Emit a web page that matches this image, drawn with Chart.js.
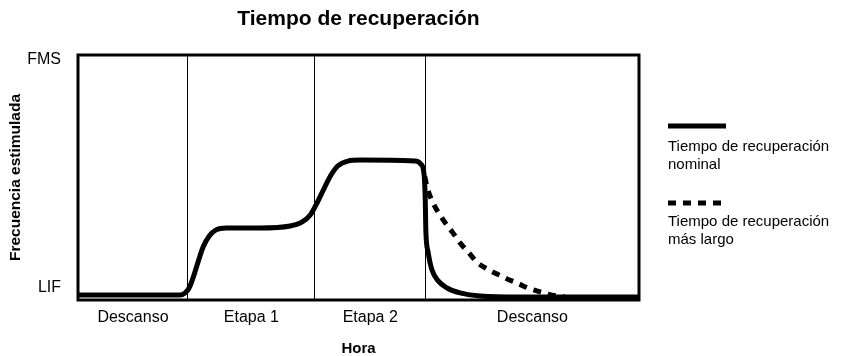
<!DOCTYPE html>
<html>
<head>
<meta charset="utf-8">
<script src="https://cdn.jsdelivr.net/npm/chart.js@4"></script>
<style>
  html, body { margin: 0; padding: 0; background: #fff; }
  #wrap { width: 841px; height: 356px; position: relative; }
</style>
</head>
<body>
<div id="wrap"><canvas id="c" width="841" height="356"></canvas></div>
<script>
// ---- data (time units 0..100, frequency units 0..100) ----
const chartTitle = 'Tiempo de recuperación';
const xTitle = 'Hora';
const yTitle = 'Frecuencia estimulada';
const phaseNames = ['Descanso', 'Etapa 1', 'Etapa 2', 'Descanso'];
const phaseBounds = [0, 19.6, 42.2, 62.0, 100];
const yTickValues = [4.9, 98];
const yTickLabels = ['LIF', 'FMS'];
const seriesNames = [['Tiempo de recuperación', 'nominal'], ['Tiempo de recuperación', 'más largo']];

const nominalX = [0, 18.2, 19.1, 19.8, 20.5, 21.4, 22.3, 23.4, 24.6, 26.4, 32.4, 37.8, 39.9, 41.4, 42.6, 43.9, 45.1, 46.3, 48.1, 50.3, 60.1, 61.1, 61.7, 61.9, 62.0, 62.4, 63.1, 64.2, 65.8, 68.1, 71.7, 78.8, 100];
const nominalY = [2.0, 2.0, 2.9, 4.9, 9.0, 15.5, 21.6, 26.1, 28.6, 29.4, 29.4, 30.2, 31.8, 34.7, 39.6, 45.7, 51.0, 54.7, 56.7, 57.1, 56.7, 55.5, 51.0, 40.8, 28.6, 19.6, 12.2, 7.8, 4.9, 2.9, 1.6, 1.2, 1.2];

const longX = [61.8, 62.3, 63.3, 65.1, 66.7, 68.1, 69.7, 71.1, 72.9, 74.7, 76.5, 78.3, 80.2, 82.4, 84.5, 86.8];
const longY = [50.5, 45.5, 39.6, 32.7, 27.8, 23.3, 19.2, 15.5, 12.7, 10.6, 8.6, 6.9, 4.9, 3.3, 2.0, 1.2];

// ---- chart ----
const FONT = '"Liberation Sans", Arial, Helvetica, sans-serif';
Chart.defaults.font.family = FONT;
Chart.defaults.color = '#000';

const toPts = (xs, ys) => xs.map((x, i) => ({ x: x, y: ys[i] }));
const phaseCenters = phaseNames.map((_, i) => (phaseBounds[i] + phaseBounds[i + 1]) / 2);
const innerBounds = phaseBounds.slice(1, -1);

const framePlugin = {
  id: 'frame',
  afterDraw(chart) {
    const { ctx, chartArea: a } = chart;
    ctx.save();
    ctx.strokeStyle = '#000';
    ctx.lineWidth = 3;
    ctx.strokeRect(a.left, a.top, a.right - a.left, a.bottom - a.top);
    ctx.restore();
  }
};

const legendPlugin = {
  id: 'sideLegend',
  afterDraw(chart) {
    const ctx = chart.ctx;
    const items = [
      { ds: chart.data.datasets[0], lineY: 126, textY: [147, 165] },
      { ds: chart.data.datasets[1], lineY: 203, textY: [222, 240] }
    ];
    ctx.save();
    items.forEach((it, i) => {
      ctx.beginPath();
      ctx.strokeStyle = it.ds.borderColor;
      ctx.lineWidth = 5;
      ctx.lineCap = 'butt';
      ctx.setLineDash(it.ds.borderDash || []);
      ctx.moveTo(668, it.lineY);
      ctx.lineTo(i === 0 ? 726 : 724, it.lineY);
      ctx.stroke();
      ctx.setLineDash([]);
      ctx.fillStyle = '#000';
      ctx.font = '15px ' + FONT;
      ctx.textAlign = 'left';
      ctx.textBaseline = 'middle';
      seriesNames[i].forEach((t, k) => ctx.fillText(t, 668, it.textY[k]));
    });
    ctx.restore();
  }
};

new Chart(document.getElementById('c'), {
  type: 'line',
  data: {
    datasets: [
      {
        label: seriesNames[0].join(' '),
        data: toPts(nominalX, nominalY),
        borderColor: '#000',
        borderWidth: 5,
        pointRadius: 0,
        cubicInterpolationMode: 'monotone',
        fill: false
      },
      {
        label: seriesNames[1].join(' '),
        data: toPts(longX, longY),
        borderColor: '#000',
        borderWidth: 5,
        borderDash: [8, 7],
        borderCapStyle: 'butt',
        pointRadius: 0,
        cubicInterpolationMode: 'monotone',
        fill: false
      }
    ]
  },
  options: {
    responsive: false,
    animation: false,
    layout: { padding: { left: 0, top: 0, right: 202, bottom: 0 } },
    plugins: {
      legend: { display: false },
      tooltip: { enabled: false },
      title: {
        display: true,
        text: chartTitle,
        fullSize: false,
        font: { size: 21, weight: 'bold', family: FONT, lineHeight: 1.2 },
        color: '#000',
        padding: { top: 7, bottom: 22.8 }
      }
    },
    scales: {
      x: {
        type: 'linear',
        min: 0,
        max: 100,
        border: { display: false },
        grid: {
          drawTicks: false,
          lineWidth: 1,
          color: (c) => (c.tick && innerBounds.includes(c.tick.value)) ? '#000' : 'rgba(0,0,0,0)'
        },
        afterBuildTicks: (s) => {
          s.ticks = phaseBounds.concat(phaseCenters).sort((a, b) => a - b).map(v => ({ value: v }));
        },
        afterFit: (s) => { s.height = 56; },
        ticks: {
          autoSkip: false,
          maxRotation: 0,
          padding: 8,
          font: { size: 16, family: FONT },
          color: '#000',
          callback: (v) => {
            const i = phaseCenters.indexOf(v);
            return i >= 0 ? phaseNames[i] : '';
          }
        },
        title: {
          display: true,
          text: xTitle,
          color: '#000',
          font: { size: 15, weight: 'bold', family: FONT, lineHeight: 1 },
          padding: { top: 0, bottom: 0 }
        }
      },
      y: {
        type: 'linear',
        min: 0,
        max: 100,
        border: { display: false },
        grid: { display: false, drawTicks: false },
        afterBuildTicks: (s) => { s.ticks = yTickValues.map(v => ({ value: v })); },
        afterFit: (s) => { s.width = 78; },
        ticks: {
          padding: 17,
          font: { size: 16, family: FONT },
          color: '#000',
          callback: (v) => {
            const i = yTickValues.indexOf(v);
            return i >= 0 ? yTickLabels[i] : '';
          }
        },
        title: {
          display: true,
          text: yTitle,
          color: '#000',
          font: { size: 15.5, weight: 'bold', family: FONT, lineHeight: 1.2 },
          padding: { top: 6, bottom: 0 }
        }
      }
    }
  },
  plugins: [framePlugin, legendPlugin]
});
</script>
</body>
</html>
